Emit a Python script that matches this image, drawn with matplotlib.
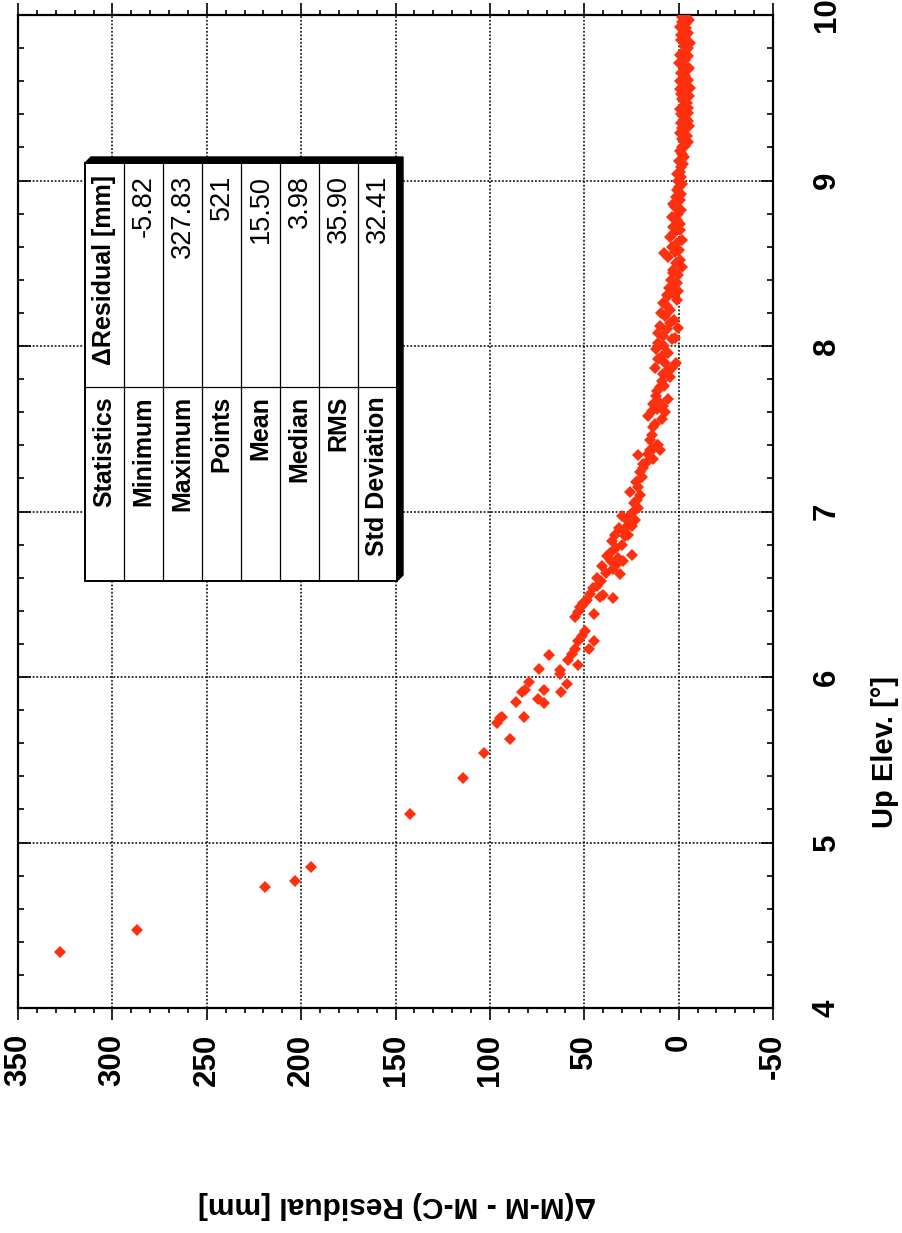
import matplotlib
matplotlib.use('Agg')
from matplotlib import pyplot as plt
from matplotlib.ticker import MultipleLocator
from matplotlib.patches import Polygon, Rectangle

plt.rcParams['font.family'] = ['Liberation Sans', 'DejaVu Sans']
plt.rcParams['axes.unicode_minus'] = False

# elevation [deg] and residual [mm]
elev = [4.34, 4.47, 4.73, 4.77, 4.85, 5.17, 5.39, 5.54, 5.625,
        5.72, 5.75, 5.76, 5.76, 5.85, 5.91, 5.92, 5.97, 5.87, 5.845, 5.92, 6.05, 6.13,
        6.04, 6.02, 5.96, 5.91, 6.10, 6.14, 6.17, 6.07, 6.22, 6.25, 6.28, 6.17, 6.22,
        6.38, 6.36, 6.39, 6.43, 6.455,
        6.42, 6.45, 6.465, 6.54, 6.55, 6.485, 6.495, 6.475, 6.60, 6.67, 6.73, 6.75,
        6.65, 6.68, 6.62, 6.72, 6.74, 6.82, 6.86, 6.85, 6.86, 6.97, 6.95, 6.98, 6.91,
        6.95, 7.02, 7.12, 7.07, 7.10, 7.15, 7.21, 7.24, 7.34, 7.29, 7.35, 7.37, 7.32,
        7.40, 7.37,
        6.50, 6.58, 6.63, 6.70, 6.78, 6.80, 6.88, 6.92, 7.00, 7.05, 7.18, 7.26, 7.30,
        7.43, 6.90, 6.70,
        7.38, 7.40, 7.46, 7.51, 7.53, 7.58, 7.61, 7.65, 7.67, 7.64, 7.60, 7.56, 7.73,
        7.75, 7.79, 7.83, 7.85, 7.81, 7.87, 7.87, 7.92, 7.94, 8.02, 8.06, 8.10, 8.14,
        8.12, 8.18, 8.22, 8.26, 8.30, 8.32, 8.28, 8.33,
        7.70, 7.76, 7.90, 7.96, 8.00, 8.04, 8.08, 8.16, 8.20, 8.24, 7.98, 7.62, 7.68,
        7.90, 8.11, 8.05,
        8.31, 8.36, 8.38, 8.44, 8.43, 8.48, 8.54, 8.60, 8.66, 8.72, 8.76, 8.78, 8.84,
        8.70, 8.64, 8.94, 9.00, 9.05, 9.10, 9.16, 9.21, 9.23,
        8.35, 8.40, 8.46, 8.50, 8.52, 8.57, 8.58, 8.62, 8.68, 8.74, 8.80, 8.82, 8.86,
        8.88, 8.90, 8.92, 8.96, 8.98, 9.02, 9.04, 9.08, 9.12, 9.14, 9.18, 9.20, 8.56,
        9.25, 9.27, 9.29, 9.31, 9.33, 9.35, 9.37, 9.39, 9.41, 9.43, 9.45, 9.47, 9.49,
        9.51, 9.53, 9.55, 9.57, 9.59, 9.61, 9.63, 9.65, 9.67, 9.69, 9.71, 9.73, 9.75,
        9.77, 9.79, 9.81, 9.83, 9.85, 9.87, 9.89, 9.91, 9.93, 9.95, 9.97, 9.99, 10.0,
        9.98, 9.96, 9.92, 9.88, 9.84, 9.80, 9.76, 9.72, 9.68, 9.64, 9.60, 9.56, 9.52,
        9.48, 9.44, 9.40, 9.36, 9.32, 9.28]

residual = [327.8, 287.0, 219.0, 203.0, 195.0, 142.4, 114.0, 103.0, 89.3,
            96.4, 94.6, 93.7, 81.8, 86.3, 83.1, 81.4, 79.3, 74.7, 71.2, 71.2, 74.0, 68.5,
            62.8, 62.8, 59.3, 62.3, 58.4, 56.7, 54.9, 53.2, 53.2, 51.4, 49.6, 47.3, 44.8,
            44.8, 54.9, 53.2, 51.4, 49.6,
            52.3, 50.5, 48.7, 45.2, 43.4, 41.7, 39.9, 34.6, 43.4, 40.8, 38.1, 36.4,
            34.6, 32.8, 31.1, 31.9, 24.9, 35.5, 33.7, 28.4, 26.7, 30.2, 27.5, 25.8, 24.9,
            23.1, 21.4, 25.8, 22.2, 20.5, 21.4, 19.6, 20.5, 21.4, 18.7, 16.1, 15.2, 13.4,
            11.6, 9.9,
            47.0, 41.0, 38.5, 36.0, 33.0, 30.0, 29.0, 27.0, 24.0, 23.5, 22.8, 19.0, 17.0,
            15.0, 31.5, 29.5,
            13.4, 10.8, 14.3, 13.4, 12.5, 16.1, 14.3, 13.4, 10.8, 8.1, 7.2, 9.0, 11.6,
            9.9, 9.0, 8.1, 6.3, 4.6, 3.7, 12.5, 10.8, 9.0, 10.8, 8.1, 6.3, 4.6,
            9.9, 7.2, 4.6, 8.1, 5.5, 2.8, 1.0, 0.2,
            12.0, 7.5, 7.0, 5.5, 8.0, 3.5, 11.0, 2.5, 9.5, 6.0, 12.0, 11.5, 5.5,
            1.5, 0.5, 1.8,
            6.3, 3.7, 1.0, 2.8, 0.2, -1.6, 5.5, 3.7, 4.6, 2.8, 1.0, 3.7, 1.9,
            -0.7, -1.6, 1.0, 0.2, -0.7, -2.5, -1.6, -3.4, -5.1,
            5.0, 4.0, 3.0, 1.5, -0.5, 2.0, 0.0, 1.0, 2.5, -0.5, 0.5, -1.0, 3.0,
            -0.5, 1.5, -1.5, 0.0, -2.0, -1.5, 1.0, -1.0, 0.0, -3.0, -0.5, -2.0, 7.5,
            -2.0, -4.5, -0.8, -3.2, -5.3, -1.5, -3.8, -2.4, -5.0, -0.5, -3.0, -4.2, -1.8,
            -5.5, -2.7, -0.9, -4.0, -2.1, -5.2, -3.3, -1.2, -4.6, -2.5, -0.4, -3.6, -5.0,
            -1.9, -3.9, -2.8, -5.82, -1.3, -3.4, -4.8, -2.2, -0.7, -3.7, -5.3, -1.6, -3.0,
            -4.3, -2.0, -4.0, -1.0, -3.0, -5.0, -0.9, -2.4, -5.7, -2.9, -0.6, -5.8, -1.0,
            -3.5, -5.0, -1.1, -5.2, -1.9, -3.1]

stat_names = ['Statistics', 'Minimum', 'Maximum', 'Points', 'Mean', 'Median', 'RMS', 'Std Deviation']
stat_header = '\u0394Residual [mm]'
stat_values = [-5.82, 327.83, 521, 15.50, 3.98, 35.90, 32.41]

W, H = 902, 1233
fig = plt.figure(figsize=(W / 100, H / 100), dpi=100)

# the plot is drawn turned on its side: residual runs along x, elevation along y
ax = fig.add_axes([18 / W, 1 - 1008 / H, (773 - 18) / W, (1008 - 15) / H])
ax.plot(residual, elev, 'D', color='#ff3010', ms=6.6, mew=0, zorder=3)
ax.set_xlim(350, -50)
ax.set_ylim(4, 10)

ax.xaxis.set_major_locator(MultipleLocator(50))
ax.xaxis.set_minor_locator(MultipleLocator(10))
ax.yaxis.set_major_locator(MultipleLocator(1))
ax.yaxis.set_minor_locator(MultipleLocator(0.2))

ax.tick_params(axis='x', which='both', direction='out', top=True, bottom=True,
               labelbottom=True, width=1.2)
ax.tick_params(axis='x', which='major', length=8.5, pad=10)
ax.tick_params(axis='x', which='minor', length=3.8)
ax.tick_params(axis='y', which='both', direction='in', left=True, right=True,
               labelleft=False, labelright=True, width=1.2)
ax.tick_params(axis='y', which='major', length=9, pad=28)
ax.tick_params(axis='y', which='minor', length=4.3)

for lab in ax.get_xticklabels() + ax.get_yticklabels():
    lab.set_rotation(90)
    lab.set_fontsize(22.5)
    lab.set_fontweight('bold')
for lab in ax.get_yticklabels():
    lab.set_verticalalignment('center')

ax.grid(True, which='major', color='black', linestyle=(0, (1.2, 1.2)), linewidth=1.1)
for sp in ax.spines.values():
    sp.set_linewidth(1.6)

fig.text(885 / W, 1 - 752 / H, 'Up Elev. [\u00b0]', rotation=90, ha='center', va='center',
         fontsize=21, fontweight='bold')
fig.text(397 / W, 1 - 1205 / H, '\u0394(M-M - M-C) Residual [mm]', rotation=180,
         ha='center', va='center', fontsize=21.5, fontweight='bold')

# statistics table, also on its side
tax = fig.add_axes([0, 0, 1, 1], zorder=5)
tax.set_xlim(0, W)
tax.set_ylim(H, 0)
tax.axis('off')

left, right, top, bottom, split = 85, 397, 163, 581, 387
ncol = len(stat_names)
cw = (right - left) / ncol

tax.add_patch(Polygon([(left, top), (left + 6, top - 6), (right + 6, top - 6),
                       (right + 6, bottom - 6), (right, bottom)],
                      closed=True, facecolor='black', edgecolor='black'))
tax.add_patch(Rectangle((left, top), right - left, bottom - top,
                        facecolor='white', edgecolor='black', lw=1.4))
for i in range(1, ncol):
    tax.plot([left + i * cw] * 2, [top, bottom], color='black', lw=0.9)
tax.plot([left, right], [split, split], color='black', lw=0.9)

value_texts = [stat_header] + ['%d' % v if isinstance(v, int) else '%.2f' % v
                               for v in stat_values]
for i in range(ncol):
    cx = left + (i + 0.5) * cw
    tax.text(cx, split + 9, stat_names[i], rotation=90, ha='center', va='top',
             fontsize=18, fontweight='bold')
    tax.text(cx, top + 12, value_texts[i], rotation=90, ha='center', va='top',
             fontsize=18 if i == 0 else 19.5, fontweight='bold' if i == 0 else 'normal')

fig.savefig('out.png', dpi=100)
